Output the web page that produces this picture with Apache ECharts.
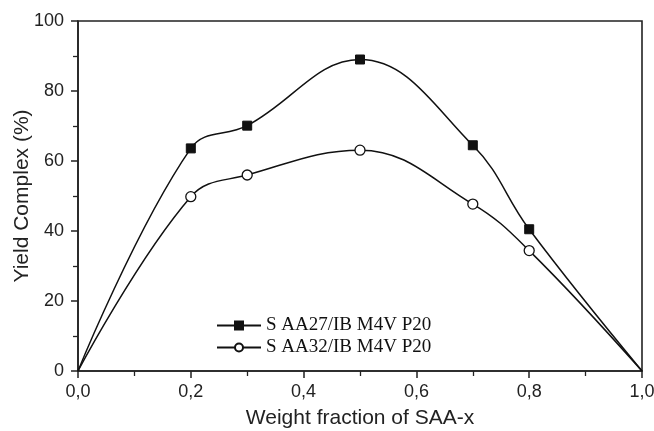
<!DOCTYPE html>
<html><head><meta charset="utf-8">
<script src="https://cdn.jsdelivr.net/npm/echarts@6/dist/echarts.min.js"></script>
<style>html,body{margin:0;padding:0;background:#fff}#c{width:654px;height:431px}</style>
</head><body><div id="c"></div>
<script>
const xValues = [0, 0.2, 0.3, 0.5, 0.7, 0.8, 1.0];
const saa27 = [0, 63.6, 70.1, 89.0, 64.5, 40.5, 0];
const saa32 = [0, 49.8, 56.0, 63.1, 47.7, 34.4, 0];
const seriesNames = ['S AA27/IB M4V P20', 'S AA32/IB M4V P20'];
const xTicks = [0, 0.2, 0.4, 0.6, 0.8, 1.0];
const yTicks = [0, 20, 40, 60, 80, 100];

function toData(ys) {
  return xValues.map((x, i) => {
    const isEnd = (i === 0 || i === xValues.length - 1);
    return isEnd ? {value: [x, ys[i]], symbol: 'none'} : {value: [x, ys[i]]};
  });
}

const chart = echarts.init(document.getElementById('c'));
const tickFont = {fontFamily: 'Liberation Sans', fontSize: 18, color: '#222'};
const nameFont = {fontFamily: 'Liberation Sans', fontSize: 21, color: '#222'};
chart.setOption({
  animation: false,
  backgroundColor: '#fff',
  grid: {left: 78, right: 12, top: 21, bottom: 60, containLabel: false, outerBoundsMode: 'none',
         show: true, borderColor: '#222', borderWidth: 1.6, backgroundColor: 'transparent'},
  legend: {
    left: 216, top: 316, padding: 0, orient: 'vertical', itemGap: 3, itemWidth: 44, itemHeight: 10,
    textStyle: {fontFamily: 'Liberation Serif', fontSize: 19, color: '#111'},
    data: seriesNames
  },
  xAxis: {
    type: 'value', min: 0, max: 1, interval: 0.2,
    name: 'Weight fraction of SAA-x', nameLocation: 'middle', nameGap: 37, nameMoveOverlap: false,
    nameTextStyle: nameFont,
    axisLine: {lineStyle: {color: '#222', width: 1.6}},
    axisTick: {length: 7, lineStyle: {color: '#222', width: 1.5}},
    minorTick: {show: true, splitNumber: 2, length: 5, lineStyle: {color: '#222', width: 1.3}},
    splitLine: {show: false},
    axisLabel: Object.assign({margin: 12, formatter: v => v.toFixed(1).replace('.', ',')}, tickFont)
  },
  yAxis: {
    type: 'value', min: 0, max: 100, interval: 20,
    name: 'Yield Complex (%)', nameLocation: 'middle', nameGap: 45, nameMoveOverlap: false,
    nameTextStyle: nameFont,
    axisLine: {show: true, lineStyle: {color: '#222', width: 1.6}},
    axisTick: {show: true, length: 7, lineStyle: {color: '#222', width: 1.5}},
    minorTick: {show: true, splitNumber: 2, length: 5, lineStyle: {color: '#222', width: 1.3}},
    splitLine: {show: false},
    axisLabel: Object.assign({margin: 14}, tickFont)
  },
  series: [
    {
      name: seriesNames[0], type: 'line', smooth: 0.4,
      data: toData(saa27),
      symbol: 'rect', symbolSize: 9,
      showAllSymbol: true,
      lineStyle: {color: '#111', width: 1.5},
      itemStyle: {color: '#111', borderColor: '#111', borderWidth: 1}
    },
    {
      name: seriesNames[1], type: 'line', smooth: 0.4,
      data: toData(saa32),
      symbol: 'circle', symbolSize: 10,
      showAllSymbol: true,
      lineStyle: {color: '#111', width: 1.5},
      itemStyle: {color: '#fff', borderColor: '#111', borderWidth: 1.3}
    }
  ]
});
</script></body></html>
